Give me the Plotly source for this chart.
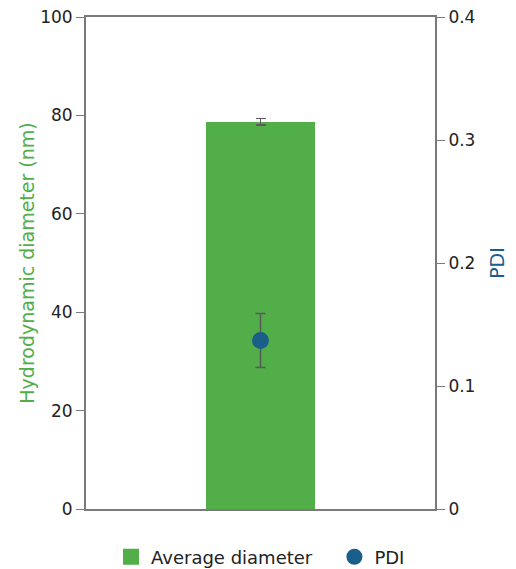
import plotly.graph_objects as go

categories = ["Sample"]
avg_diameter = [78.7]
avg_diameter_err = [0.7]
pdi = [0.137]
pdi_err = [0.022]

green = "#52AE48"
blue = "#1B5E8A"
axis_gray = "#7A7A7A"
err_gray = "#5A5A5A"
font_family = "'DejaVu Sans', sans-serif"
pad = "\u00a0" * 3

fig = go.Figure()
fig.add_trace(go.Bar(
    x=categories, y=avg_diameter, name="Average diameter",
    marker=dict(color=green, line=dict(width=0)), width=0.31,
    error_y=dict(type="data", array=avg_diameter_err, color=err_gray, thickness=1.5, width=5),
    showlegend=False, yaxis="y",
))
fig.add_trace(go.Scatter(
    x=categories, y=pdi, name="PDI", mode="markers",
    marker=dict(color=blue, size=17),
    error_y=dict(type="data", array=pdi_err, color=err_gray, thickness=1.5, width=5),
    showlegend=False, yaxis="y2",
))
# legend entries
fig.add_trace(go.Scatter(x=[None], y=[None], mode="markers", name="Average diameter" + pad,
                         marker=dict(color=green, symbol="square", size=20), yaxis="y"))
fig.add_trace(go.Scatter(x=[None], y=[None], mode="markers", name="PDI",
                         marker=dict(color=blue, symbol="circle", size=18), yaxis="y2"))

fig.update_layout(
    width=508, height=561,
    margin=dict(l=78, r=81, t=9, b=60, autoexpand=False),
    plot_bgcolor="white", paper_bgcolor="white",
    font=dict(family=font_family, size=17, color="#222"),
    bargap=0,
    xaxis=dict(showticklabels=False, ticks="", showline=True, linecolor=axis_gray, linewidth=2,
               mirror=True, showgrid=False, zeroline=False, automargin=False),
    yaxis=dict(range=[0, 100], tickvals=[0, 20, 40, 60, 80, 100], showline=True, linecolor=axis_gray,
               linewidth=2, ticks="outside", ticklen=8, tickcolor=axis_gray, tickwidth=1,
               showgrid=False, zeroline=False, automargin=False, tickfont=dict(size=17),
               ticklabeloverflow="allow",
               title=dict(text="Hydrodynamic diameter (nm)", font=dict(color=green, size=19), standoff=0)),
    yaxis2=dict(range=[0, 0.4], tickvals=[0, 0.1, 0.2, 0.3, 0.4], ticktext=["0", "0.1", "0.2", "0.3", "0.4"],
                overlaying="y", side="right", showline=True, linecolor=axis_gray, linewidth=2,
                ticks="outside", ticklen=8, tickcolor=axis_gray, tickwidth=1,
                showgrid=False, zeroline=False, automargin=False, tickfont=dict(size=17),
                ticklabeloverflow="allow",
                title=dict(text="PDI", font=dict(color=blue, size=19), standoff=16)),
    legend=dict(orientation="h", x=0.5, xanchor="center", y=-0.0976, yanchor="middle",
                font=dict(size=18, color="#222"), itemsizing="trace", traceorder="normal"),
)

fig.write_html("out.html")
